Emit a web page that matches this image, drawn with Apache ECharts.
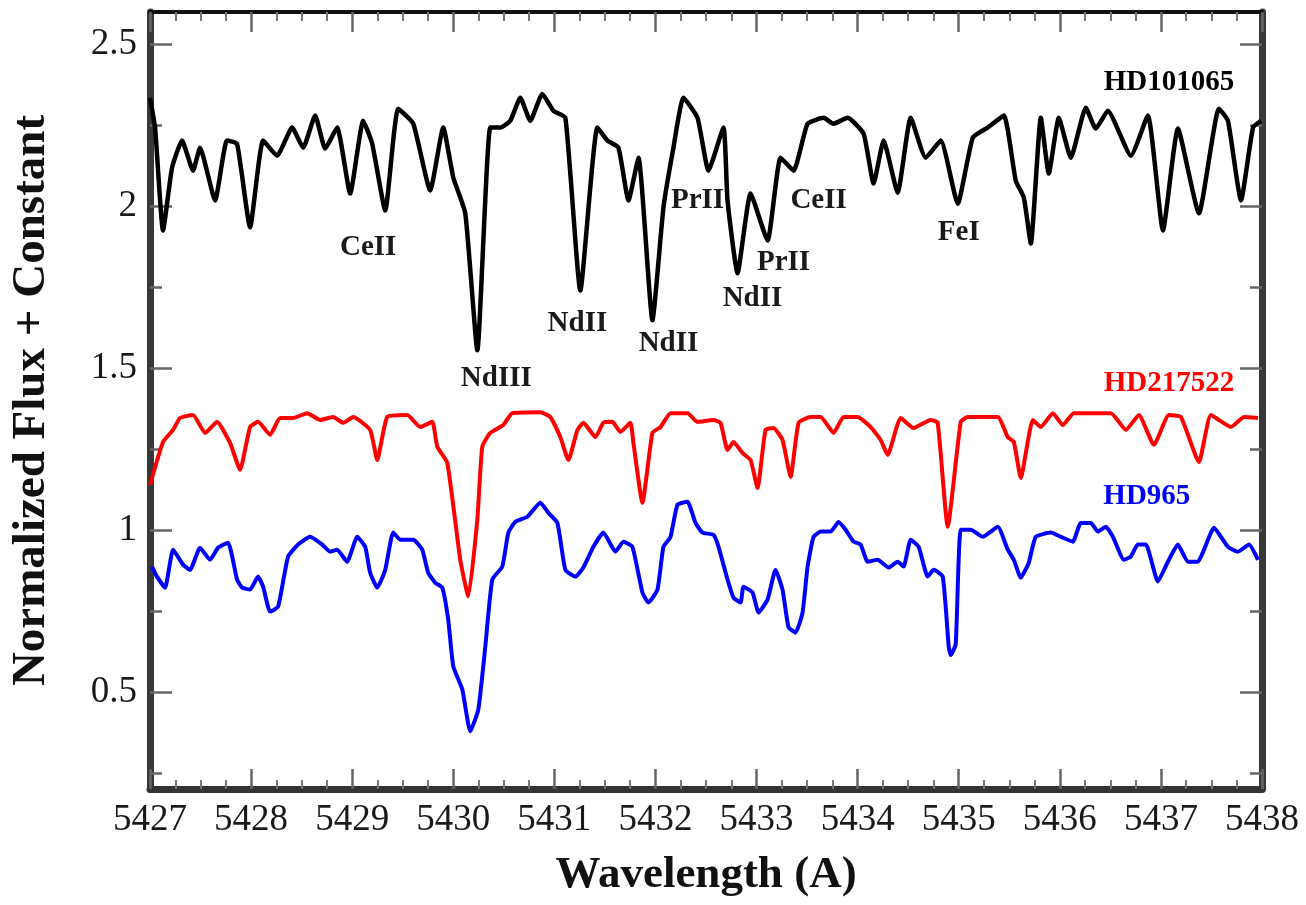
<!DOCTYPE html>
<html>
<head>
<meta charset="utf-8">
<title>Spectra</title>
<script src="https://cdn.jsdelivr.net/npm/echarts@6/dist/echarts.min.js"></script>
<style>
  html, body { margin: 0; padding: 0; background: #fff; }
  #chart { width: 1306px; height: 905px; }
</style>
</head>
<body>
<div id="chart"></div>
<script>
  // spectra: [wavelength (A), normalized flux + constant]
  const hd101065 = [
    [5427.000, 2.335], [5427.050, 2.243], [5427.129, 1.925], [5427.218, 2.119], [5427.317, 2.203],
    [5427.426, 2.110], [5427.495, 2.181], [5427.644, 2.018], [5427.762, 2.203], [5427.861, 2.193],
    [5427.990, 1.935], [5428.119, 2.203], [5428.257, 2.156], [5428.406, 2.243], [5428.515, 2.181],
    [5428.634, 2.280], [5428.733, 2.178], [5428.851, 2.243], [5428.980, 2.039], [5429.109, 2.264],
    [5429.198, 2.193], [5429.327, 1.987], [5429.455, 2.301], [5429.604, 2.255], [5429.772, 2.049],
    [5429.901, 2.243], [5430.000, 2.089], [5430.119, 1.978], [5430.238, 1.555], [5430.366, 2.243],
    [5430.465, 2.243], [5430.564, 2.264], [5430.663, 2.335], [5430.762, 2.264], [5430.881, 2.347],
    [5430.990, 2.295], [5431.109, 2.273], [5431.257, 1.740], [5431.426, 2.243], [5431.525, 2.203],
    [5431.634, 2.181], [5431.733, 2.018], [5431.832, 2.150], [5431.970, 1.648], [5432.079, 1.996],
    [5432.178, 2.181], [5432.277, 2.335], [5432.416, 2.273], [5432.525, 2.110], [5432.673, 2.243],
    [5432.713, 2.018], [5432.812, 1.793], [5432.941, 2.039], [5433.109, 1.894], [5433.238, 2.150],
    [5433.366, 2.110], [5433.505, 2.255], [5433.663, 2.273], [5433.762, 2.255], [5433.901, 2.273],
    [5434.059, 2.224], [5434.158, 2.070], [5434.257, 2.203], [5434.396, 2.042], [5434.525, 2.273],
    [5434.673, 2.150], [5434.822, 2.203], [5434.990, 2.008], [5435.139, 2.212], [5435.287, 2.243],
    [5435.446, 2.280], [5435.564, 2.079], [5435.644, 2.027], [5435.713, 1.885], [5435.812, 2.273],
    [5435.891, 2.101], [5435.990, 2.273], [5436.109, 2.150], [5436.257, 2.304], [5436.356, 2.240],
    [5436.475, 2.295], [5436.703, 2.156], [5436.871, 2.280], [5437.020, 1.925], [5437.168, 2.240],
    [5437.376, 1.978], [5437.574, 2.301], [5437.663, 2.264], [5437.792, 2.018], [5437.911, 2.243],
    [5437.990, 2.264]
  ]
  const hd217522 = [
    [5427.000, 1.139], [5427.129, 1.272], [5427.228, 1.309], [5427.297, 1.346], [5427.426, 1.355],
    [5427.545, 1.300], [5427.663, 1.334], [5427.792, 1.269], [5427.891, 1.186], [5427.990, 1.318],
    [5428.069, 1.334], [5428.188, 1.294], [5428.287, 1.346], [5428.416, 1.346], [5428.554, 1.361],
    [5428.683, 1.340], [5428.812, 1.349], [5428.911, 1.331], [5429.010, 1.349], [5429.178, 1.309],
    [5429.248, 1.216], [5429.347, 1.349], [5429.545, 1.355], [5429.673, 1.318], [5429.792, 1.334],
    [5429.842, 1.257], [5429.941, 1.207], [5430.069, 0.908], [5430.149, 0.795], [5430.238, 1.032],
    [5430.287, 1.257], [5430.366, 1.300], [5430.495, 1.324], [5430.584, 1.361], [5430.861, 1.364],
    [5430.960, 1.349], [5431.059, 1.287], [5431.139, 1.216], [5431.228, 1.309], [5431.287, 1.331],
    [5431.406, 1.287], [5431.485, 1.331], [5431.574, 1.334], [5431.653, 1.303], [5431.752, 1.331],
    [5431.782, 1.269], [5431.871, 1.084], [5431.970, 1.300], [5432.050, 1.318], [5432.149, 1.361],
    [5432.317, 1.361], [5432.416, 1.334], [5432.574, 1.340], [5432.644, 1.331], [5432.713, 1.247],
    [5432.772, 1.272], [5432.861, 1.238], [5432.941, 1.216], [5433.010, 1.130], [5433.089, 1.309],
    [5433.168, 1.315], [5433.257, 1.278], [5433.337, 1.164], [5433.416, 1.331], [5433.535, 1.349],
    [5433.634, 1.349], [5433.762, 1.300], [5433.861, 1.349], [5434.000, 1.349], [5434.129, 1.318],
    [5434.228, 1.278], [5434.297, 1.232], [5434.426, 1.346], [5434.554, 1.315], [5434.723, 1.340],
    [5434.792, 1.331], [5434.891, 1.010], [5435.020, 1.334], [5435.089, 1.349], [5435.386, 1.349],
    [5435.485, 1.287], [5435.545, 1.272], [5435.614, 1.161], [5435.733, 1.340], [5435.812, 1.318],
    [5435.931, 1.361], [5436.030, 1.324], [5436.139, 1.361], [5436.505, 1.361], [5436.653, 1.309],
    [5436.782, 1.355], [5436.931, 1.263], [5437.079, 1.355], [5437.198, 1.349], [5437.376, 1.210],
    [5437.495, 1.355], [5437.693, 1.318], [5437.822, 1.349], [5437.960, 1.346]
  ]
  const hd965 = [
    [5427.020, 0.887], [5427.069, 0.856], [5427.149, 0.822], [5427.228, 0.939], [5427.327, 0.893],
    [5427.396, 0.877], [5427.495, 0.945], [5427.594, 0.908], [5427.673, 0.945], [5427.772, 0.961],
    [5427.861, 0.847], [5427.911, 0.822], [5427.990, 0.816], [5428.069, 0.856], [5428.119, 0.825],
    [5428.188, 0.748], [5428.267, 0.763], [5428.366, 0.918], [5428.465, 0.955], [5428.584, 0.979],
    [5428.703, 0.955], [5428.782, 0.933], [5428.851, 0.939], [5428.950, 0.902], [5429.050, 0.979],
    [5429.129, 0.948], [5429.178, 0.868], [5429.248, 0.822], [5429.327, 0.877], [5429.406, 0.992],
    [5429.475, 0.970], [5429.604, 0.970], [5429.693, 0.939], [5429.752, 0.868], [5429.822, 0.837],
    [5429.891, 0.822], [5429.950, 0.723], [5430.000, 0.579], [5430.089, 0.508], [5430.168, 0.378],
    [5430.248, 0.446], [5430.317, 0.640], [5430.386, 0.847], [5430.485, 0.887], [5430.545, 0.992],
    [5430.614, 1.025], [5430.733, 1.041], [5430.861, 1.084], [5430.941, 1.053], [5431.030, 1.022],
    [5431.109, 0.877], [5431.208, 0.856], [5431.287, 0.884], [5431.386, 0.948], [5431.485, 0.992],
    [5431.604, 0.933], [5431.683, 0.964], [5431.772, 0.948], [5431.871, 0.807], [5431.931, 0.776],
    [5432.020, 0.816], [5432.079, 0.948], [5432.149, 0.979], [5432.218, 1.078], [5432.317, 1.087],
    [5432.396, 1.022], [5432.465, 0.992], [5432.574, 0.985], [5432.624, 0.948], [5432.713, 0.847],
    [5432.772, 0.791], [5432.842, 0.776], [5432.871, 0.825], [5432.960, 0.807], [5433.020, 0.745],
    [5433.109, 0.785], [5433.188, 0.877], [5433.257, 0.816], [5433.317, 0.699], [5433.386, 0.683],
    [5433.455, 0.745], [5433.505, 0.887], [5433.564, 0.979], [5433.634, 0.995], [5433.733, 0.995],
    [5433.812, 1.025], [5433.881, 1.001], [5433.960, 0.964], [5434.030, 0.955], [5434.099, 0.902],
    [5434.198, 0.908], [5434.307, 0.884], [5434.396, 0.902], [5434.455, 0.887], [5434.525, 0.970],
    [5434.604, 0.948], [5434.693, 0.856], [5434.752, 0.877], [5434.842, 0.856], [5434.901, 0.640],
    [5434.921, 0.614], [5434.970, 0.647], [5435.020, 1.001], [5435.119, 1.001], [5435.238, 0.979],
    [5435.386, 1.010], [5435.485, 0.939], [5435.545, 0.908], [5435.614, 0.853], [5435.693, 0.899],
    [5435.762, 0.979], [5435.911, 0.992], [5436.010, 0.979], [5436.129, 0.964], [5436.208, 1.022],
    [5436.307, 1.022], [5436.376, 0.995], [5436.455, 1.010], [5436.525, 0.979], [5436.634, 0.908],
    [5436.703, 0.918], [5436.772, 0.955], [5436.851, 0.955], [5436.970, 0.841], [5437.069, 0.902],
    [5437.168, 0.955], [5437.267, 0.902], [5437.366, 0.902], [5437.426, 0.939], [5437.525, 1.007],
    [5437.663, 0.948], [5437.762, 0.933], [5437.871, 0.955], [5437.960, 0.908]
  ]

  // line identifications: [wavelength, flux, text]
  const ionLabels = [
    [5429.158, 1.873, 'CeII'],
    [5430.426, 1.469, 'NdIII'],
    [5431.228, 1.639, 'NdII'],
    [5432.129, 1.577, 'NdII'],
    [5432.416, 2.018, 'PrII'],
    [5432.960, 1.716, 'NdII'],
    [5433.267, 1.827, 'PrII'],
    [5433.614, 2.018, 'CeII'],
    [5435.000, 1.919, 'FeI']
  ]
  const starNames = ['HD101065', 'HD217522', 'HD965']
  const starLabelPos = [[5437.079, 2.381], [5437.079, 1.454], [5436.861, 1.102]]

  const yLabelTicks = [0.5, 1, 1.5, 2, 2.5]
  const yMinorTicks = [0.25, 0.75, 1.25, 1.75, 2.25]

  const colors = ['#000000', '#ff0000', '#0000ff']
  const font = 'Liberation Serif'

  let chart = echarts.init(document.getElementById('chart'))

  function yAxisDef(position, ticks, len, withLine, withLabel) {
    return {
      type: 'value',
      position: position,
      min: 0.2,
      max: 2.6,
      splitLine: { show: false },
      axisLine: { show: withLine, lineStyle: { color: '#383838', width: 7 } },
      axisTick: { show: true, inside: true, length: len, customValues: ticks, lineStyle: { color: '#666', width: 2.5 } },
      axisLabel: withLabel ? {
        show: true, customValues: ticks, margin: 13,
        fontFamily: font, fontSize: 37, color: '#1a1a1a'
      } : { show: false },
      name: withLabel ? 'Normalized Flux + Constant' : '',
      nameLocation: 'middle',
      nameGap: 95,
      nameTextStyle: { fontFamily: font, fontSize: 47, fontWeight: 'bold', color: '#111' }
    }
  }

  function xAxisDef(position, withLabel, lineColor, lineWidth) {
    return {
      type: 'value',
      position: position,
      min: 5427,
      max: 5438,
      interval: 1,
      splitLine: { show: false },
      axisLine: { show: true, onZero: false, lineStyle: { color: lineColor, width: lineWidth } },
      axisTick: { show: true, inside: true, length: 20, lineStyle: { color: '#666', width: 2.5 } },
      minorTick: { show: true, splitNumber: 4, length: 9, lineStyle: { color: '#777', width: 2 } },
      axisLabel: withLabel ? {
        show: true, margin: 13, fontFamily: font, fontSize: 37, color: '#1a1a1a',
        formatter: v => String(v)
      } : { show: false },
      name: withLabel ? 'Wavelength (A)' : '',
      nameLocation: 'middle',
      nameGap: 64,
      nameTextStyle: { fontFamily: font, fontSize: 45, fontWeight: 'bold', color: '#111' }
    }
  }

  let spectra = [hd101065, hd217522, hd965]
  let series = spectra.map((d, i) => ({
    name: starNames[i],
    type: 'line',
    data: d,
    symbol: 'none',
    smooth: 0.15,
    lineStyle: { color: colors[i], width: i === 0 ? 4.5 : 4 },
    z: 3 - i
  }))

  // scatter defaults to opacity 0.8, which the labels inherit, so force 1
  let labelStyle = {
    show: true, position: 'inside', formatter: '{b}',
    fontFamily: font, fontSize: 29, fontWeight: 'bold'
  }

  series.push({
    type: 'scatter',
    symbolSize: 2,
    itemStyle: { color: 'rgba(0,0,0,0)', opacity: 1 },
    label: Object.assign({}, labelStyle, { color: '#1a1a1a' }),
    data: ionLabels.map(l => ({ name: l[2], value: [l[0], l[1]] })),
    z: 5
  })

  series.push({
    type: 'scatter',
    symbolSize: 2,
    itemStyle: { color: 'rgba(0,0,0,0)', opacity: 1 },
    label: labelStyle,
    data: starNames.map((n, i) => ({
      name: n, value: starLabelPos[i], label: { color: colors[i] }
    })),
    z: 5
  })

  let option = {
    animation: false,
    backgroundColor: '#fff',
    grid: { left: 149, right: 44, top: 12, bottom: 116, containLabel: false },
    xAxis: [
      xAxisDef('bottom', true, '#333', 7),
      xAxisDef('top', false, '#111', 4)
    ],
    yAxis: [
      yAxisDef('left', yLabelTicks, 22, true, true),
      yAxisDef('left', yMinorTicks, 12, false, false),
      yAxisDef('right', yLabelTicks, 22, true, false),
      yAxisDef('right', yMinorTicks, 12, false, false)
    ],
    series: series
  }
  chart.setOption(option)
</script>
</body>
</html>
